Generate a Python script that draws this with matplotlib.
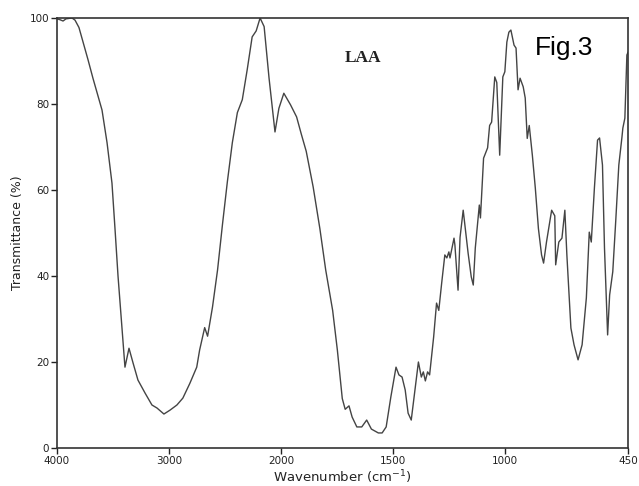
import numpy as np
import matplotlib
matplotlib.use("Agg")
import matplotlib.pyplot as plt

# IR spectrum of LAA
wavenumber = [4000, 3973, 3946, 3920, 3866, 3839, 3804, 3768, 3723, 3679,
              3598, 3553, 3509, 3482, 3455, 3420, 3393, 3357, 3321, 3277,
              3214, 3152, 3107, 3045, 2991, 2929, 2876, 2814, 2752, 2726,
              2681, 2655, 2611, 2566, 2522, 2478, 2434, 2389, 2345, 2301,
              2257, 2221, 2186, 2150, 2106, 2053, 2018, 1987, 1957, 1930,
              1909, 1887, 1856, 1826, 1800, 1769, 1748, 1726, 1713, 1696,
              1682, 1661, 1639, 1617, 1596, 1565, 1548, 1530, 1509, 1486,
              1473, 1459, 1445, 1432, 1418, 1405, 1386, 1373, 1364, 1355,
              1345, 1336, 1318, 1305, 1295, 1282, 1268, 1259, 1250, 1245,
              1227, 1223, 1209, 1200, 1186, 1173, 1164, 1150, 1141, 1132,
              1114, 1109, 1095, 1077, 1068, 1059, 1045, 1036, 1023, 1009,
              1000, 991, 982, 973, 959, 950, 941, 932, 918, 909,
              900, 891, 877, 864, 850, 836, 827, 814, 791, 777,
              773, 759, 745, 732, 723, 705, 691, 673, 655, 636,
              623, 614, 600, 586, 577, 564, 555, 541, 532, 518,
              505, 491, 477, 473, 464, 459, 455, 450]
transmittance = [99.8, 99.6, 99.3, 99.8, 100.0, 99.5, 97.8, 94.5, 90.3, 86.0,
                 78.6, 71.0, 61.6, 51.0, 40.0, 28.0, 18.8, 23.2, 19.8, 15.8,
                 12.8, 10.0, 9.3, 7.9, 8.8, 10.0, 11.6, 15.0, 18.8, 22.8,
                 28.0, 26.0, 32.8, 41.4, 52.0, 62.0, 71.0, 78.0, 81.0, 88.0,
                 95.6, 97.0, 100.0, 98.0, 86.0, 73.5, 79.0, 82.5, 79.8, 77.0,
                 73.0, 69.0, 60.7, 51.0, 41.4, 32.0, 22.8, 11.5, 9.0, 9.8,
                 7.2, 4.9, 4.9, 6.5, 4.4, 3.5, 3.5, 4.9, 11.9, 18.8,
                 17.0, 16.5, 13.5, 8.1, 6.5, 11.9, 20.0, 16.5, 17.7, 15.6,
                 17.7, 17.0, 25.8, 33.7, 32.0, 38.4, 44.9, 44.2, 45.6, 44.2,
                 48.8, 47.2, 36.7, 49.0, 55.3, 49.5, 45.3, 39.8, 37.9, 46.5,
                 56.5, 53.5, 67.4, 69.8, 75.0, 75.8, 86.3, 85.0, 68.1, 86.3,
                 87.5, 94.4, 96.7, 97.2, 93.7, 93.0, 83.3, 86.0, 84.0, 81.4,
                 72.0, 75.0, 68.0, 60.5, 51.0, 44.9, 43.0, 47.9, 55.3, 54.0,
                 42.6, 47.9, 48.8, 55.3, 44.9, 27.9, 24.0, 20.5, 24.0, 34.9,
                 50.2, 47.9, 60.5, 71.6, 72.1, 65.8, 46.5, 26.3, 35.6, 41.0,
                 52.6, 65.8, 72.3, 74.4, 76.7, 85.0, 91.4, 92.0]

xticks = [4000, 3000, 2000, 1500, 1000, 450]
yticks = [0, 20, 40, 60, 80, 100]


# scale doubles below 2000 cm-1, like the spectrometer chart paper
def fwd(w):
    w = np.asarray(w, dtype=float)
    return np.where(w >= 2000, w, 2 * w - 2000)


def inv(u):
    u = np.asarray(u, dtype=float)
    return np.where(u >= 2000, u, (u + 2000) / 2)


fig = plt.figure(figsize=(6.39, 4.86), dpi=100)
ax = fig.add_axes([57 / 639, 1 - 448 / 486, (628 - 57) / 639, (448 - 18) / 486])

ax.plot(wavenumber, transmittance, color="#444444", lw=1.0)

ax.set_xscale("function", functions=(fwd, inv))
ax.set_xlim(4000, 450)
ax.set_ylim(0, 100)
ax.set_xticks(xticks)
ax.set_xticklabels([str(t) for t in xticks])
ax.set_yticks(yticks)
ax.minorticks_off()

ax.tick_params(axis="both", direction="out", length=4, width=1,
               labelsize=7.5, pad=1.5, colors="#222222")
for s in ax.spines.values():
    s.set_linewidth(1.2)
    s.set_color("#333333")

ax.set_xlabel("Wavenumber (cm$^{-1}$)", fontsize=9.5, labelpad=2, color="#222222")
ax.set_ylabel("Transmittance (%)", fontsize=9, labelpad=4, color="#222222")

ax.text(1635, 90.7, "LAA", family="Liberation Serif", weight="bold",
        fontsize=12.5, ha="center", va="center", color="#222222")
ax.text(736, 93, "Fig.3", family="Liberation Sans", fontsize=19,
        ha="center", va="center", color="black")

fig.savefig("out.png", dpi=100)
